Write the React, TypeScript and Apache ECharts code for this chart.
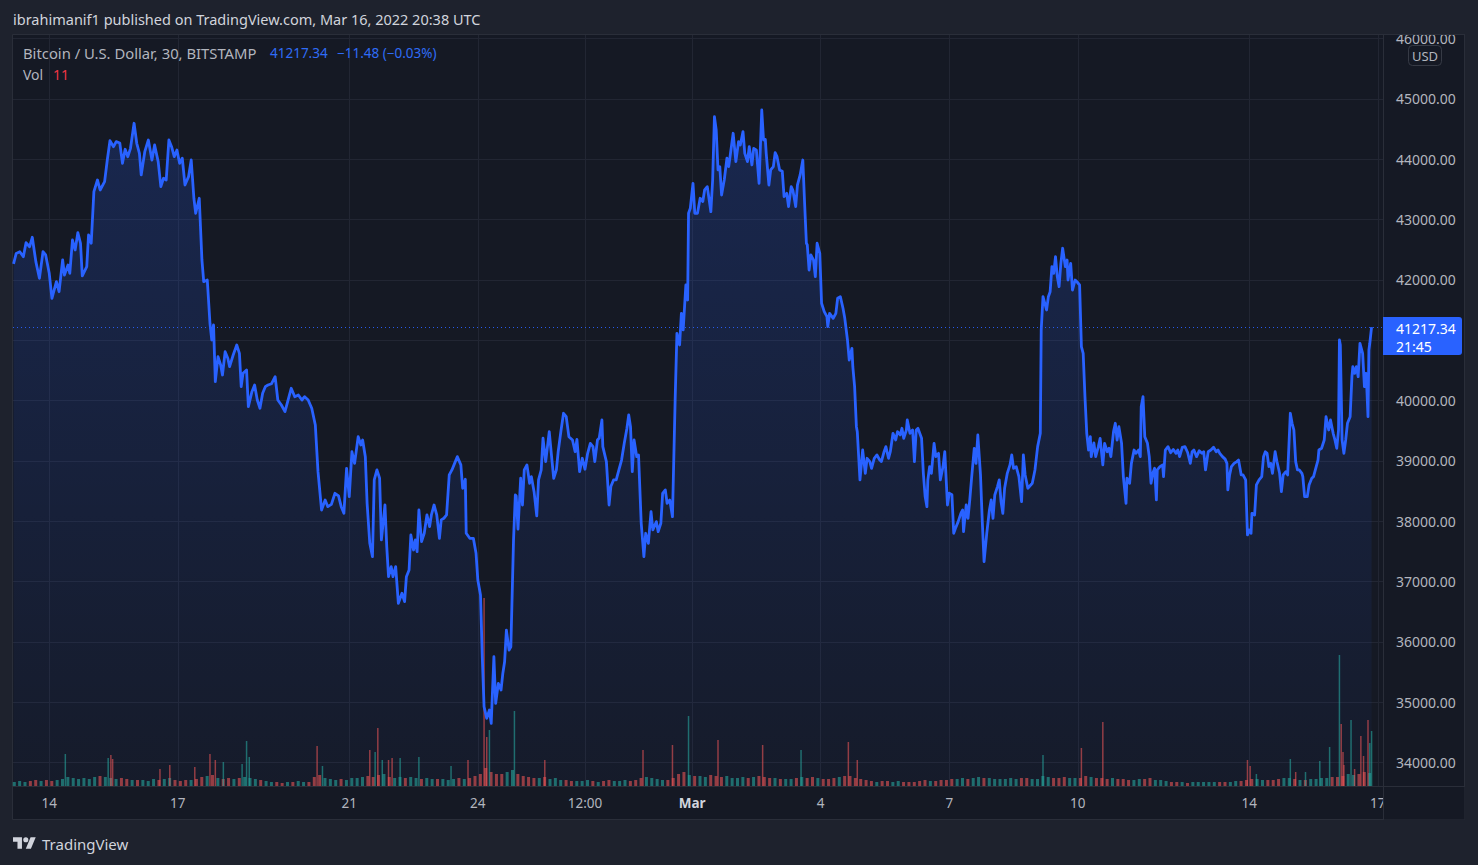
import React, { useEffect, useRef } from 'react';
import * as echarts from 'echarts';

// ---------- DATA ----------
// x values are hour offsets from 2022-02-14 00:00 UTC; 30-minute BITSTAMP BTC/USD closes.
const btcCloses: [number, number][] = [
  [-20, 42265], [-18.5, 42440], [-16.5, 42468], [-14.5, 42386], [-13, 42617], [-11, 42551], [-9.5, 42707], [-7.5, 42303],
  [-5.5, 42027], [-3.5, 42468], [-2, 42414], [0, 42110], [1.5, 41696], [4, 41971], [5.5, 41805], [7.5, 42331], [8.5, 42082],
  [10.5, 42248], [11.5, 42110], [13, 42662], [14.5, 42497], [16, 42783], [17.5, 42608], [18.5, 42066], [21, 42220], [22, 42745],
  [23.5, 42608], [25, 43463], [27, 43657], [28.5, 43491], [31, 43629], [32.5, 43988], [34, 44308], [36, 44209], [37.5, 44292],
  [39.5, 44270], [41, 43934], [42.5, 44166], [44, 44043], [45.5, 44182], [47.5, 44597], [49, 44265], [50.5, 44099], [51.5, 43740],
  [53.5, 44126], [55.5, 44320], [57.5, 43988], [59, 44237], [61, 43961], [62.5, 43546], [64, 43685], [65.5, 43657], [67, 44320],
  [68.5, 44209], [70, 44043], [71.5, 44154], [73, 43934], [74.5, 44017], [76, 43574], [78, 43712], [79.5, 43988], [81, 43354],
  [82, 43105], [84, 43354], [85.5, 42331], [86.5, 41971], [88.5, 41999], [90, 41282], [91, 41005], [92, 41254], [93, 40314],
  [94.5, 40728], [96, 40590], [97, 40425], [98.5, 40811], [100, 40701], [101, 40562], [103, 40756], [105, 40922], [106.5, 40784],
  [107.5, 40231], [108.5, 40453], [110.5, 40508], [111.5, 39899], [113.5, 40148], [115, 40259], [116.5, 40010], [118, 39873],
  [119.5, 40121], [121, 40231], [122.5, 40259], [124.5, 40280], [126.5, 40397], [128, 40010], [130, 39927], [132, 39817],
  [134, 40038], [135.5, 40204], [137.5, 40065], [139.5, 40094], [141.5, 40010], [143, 40065], [145, 40010], [147, 39873],
  [149, 39596], [150.5, 38822], [152.5, 38187], [154.5, 38353], [156, 38242], [158, 38280], [160, 38464], [162, 38420],
  [163.5, 38242], [165, 38132], [166.5, 38878], [168, 38409], [169.5, 39153], [171, 38960],
  [173, 39402], [174.5, 39264], [175.5, 39347], [177, 39071], [178, 38298], [179.5, 37635], [181, 37414], [182, 38685],
  [183.5, 38851], [185, 38713], [186, 37690], [188, 38270], [189, 37580], [190, 37082], [191.5, 37248], [192.5, 37082],
  [194, 37248], [195.5, 36640], [197.5, 36806], [199, 36668], [200, 37082], [201.5, 37193], [202.5, 37773], [204, 37524],
  [205, 37690], [206, 37497], [207, 38187], [208.5, 37663], [210, 37801], [211.5, 38105], [213, 37911], [214, 38105],
  [215.5, 38270], [217, 38105], [218.5, 37718], [219.5, 38022], [221, 38050], [222.5, 38105], [224, 38768], [225.5, 38851],
  [227, 38960], [228.5, 39071], [230.5, 38934], [231.5, 38547], [233, 38696], [233.5, 37801], [235.5, 37718], [237.5, 37718],
  [239, 37469], [240, 37027], [241.5, 36778], [242.5, 35755], [243.5, 34926], [245, 34733], [246.5, 34871], [247.5, 34650],
  [249, 35755], [250, 34981], [251.5, 35312], [253, 35202], [254, 35478], [255, 35671], [256, 36196], [257.5, 35865],
  [258.5, 35920], [260, 37690], [261, 38436], [261.5, 38420], [262.5, 37870], [264, 38713], [265, 38270], [266, 38851],
  [267.5, 38934], [269, 38630], [270, 38740], [271.5, 38491], [273, 38088], [274, 38685], [275.5, 38851], [276.5, 39376],
  [278, 38989], [280, 39486], [281.5, 39015], [282.5, 38713], [284, 38851], [285, 39153], [286.5, 39486], [288, 39790],
  [289.5, 39734], [291, 39402], [293, 39347], [294.5, 39153], [295.5, 39358], [297, 38822], [298.5, 39044], [300, 38862],
  [301.5, 39126], [303, 39292], [304.5, 39236], [305.5, 38989], [307, 39347], [308, 39380], [309.5, 39679], [310, 39237],
  [312, 38989], [313.5, 38270], [314.5, 38575], [316, 38685], [317.5, 38685], [319, 38851], [320.5, 39015], [322, 39292],
  [323.5, 39541], [324.5, 39762], [325.5, 39569], [326.5, 38822], [327.5, 39347], [329, 39071], [330, 39099], [331.5, 37967],
  [333, 37414], [334, 37801], [335.5, 37635], [337, 38160], [338, 37856], [340, 37994], [341, 37828], [342.5, 37967],
  [343.5, 38464], [345, 38519], [346, 38298], [347.5, 38353], [349, 38076],
  [350.5, 40010], [351.5, 41116], [353, 40922], [354, 41447], [355, 41171], [356.5, 41916], [357.5, 41668], [358, 43105],
  [359, 43188], [360.5, 43602], [361.5, 43105], [363, 43105], [364.5, 43354], [366, 43300], [367, 43491], [368.5, 43546],
  [370.5, 43131], [371.5, 43657], [372.5, 44706], [373.5, 44486], [374.5, 43823], [375.5, 43878], [376.5, 43408], [378, 43657],
  [379.5, 44017], [380.5, 43878], [381.5, 44099], [383, 44431], [384.5, 43961], [386, 44292], [387, 44237], [388.5, 44458],
  [389.5, 44099], [391, 43961], [392, 44209], [393.5, 43906], [394.5, 44182], [396, 44150], [396.5, 43961], [397.5, 43602],
  [399, 44817], [400, 44320], [401, 44330], [401.5, 44099], [403, 43574], [404, 43823], [405.5, 43878], [406.5, 44110],
  [407.5, 44050], [409, 43823], [410.5, 43800], [411.5, 43381], [413, 43436], [414, 43215], [415.5, 43546], [416.5, 43480],
  [418, 43215], [419, 43574], [420.5, 43740], [422, 43988], [423, 43271], [424, 42608], [424.5, 42580], [425.5, 42165],
  [426.5, 42414], [428, 42330], [429, 42054], [430, 42608], [431.5, 42442], [432.5, 41613], [434, 41474], [435.5, 41391],
  [436, 41226], [437, 41447], [439, 41364], [440.5, 41447], [441.5, 41696], [443, 41723], [444.5, 41530], [445.5, 41364],
  [447, 41005], [448, 40673], [449.5, 40867], [450, 40562], [451, 40231], [452, 39568], [452.5, 39485], [454, 38685],
  [455.5, 39181], [457, 38795], [458, 39044], [459.5, 38990], [460.5, 38878], [462, 39044], [463.5, 39099], [465, 39020],
  [466, 38989], [467.5, 39153], [468.5, 39237], [470, 39044], [471, 39153], [472.5, 39458], [474, 39347], [475, 39485],
  [476.5, 39430], [477.5, 39541], [478.5, 39375], [480, 39513], [480.5, 39679], [482, 39458], [483.5, 39513], [484.5, 38989],
  [485.5, 39513], [486.5, 39540], [488.5, 39375], [489.5, 38795], [490.5, 38409], [491.5, 38242], [492, 38685], [493, 38906],
  [494, 38795], [495.5, 39292], [496.5, 39071], [498, 39126], [499, 38685], [500.5, 38906], [501.5, 39153], [503, 38270],
  [504, 38465], [505.5, 38440], [506.5, 37801], [507.5, 37884], [509, 37994], [510.5, 38130], [511.5, 38187], [512, 37828],
  [513.5, 38270], [514.5, 38049], [515.5, 38353], [516.5, 38713], [518, 39209], [519, 38960], [520, 39430], [521.5, 38768],
  [522.5, 37994], [523.5, 37331], [525, 37801], [526.5, 38187], [527.5, 38353], [528.5, 38050], [529.5, 38436], [531, 38575],
  [532, 38685], [533, 38326], [534, 38132], [535, 38547], [536.5, 38795], [538, 38934], [539, 39099], [540, 38878],
  [541.5, 38906], [543, 38740], [544.5, 38326], [545.5, 39099], [546.5, 38768], [548, 38547],
  [550.5, 38630], [552, 38851], [553.5, 39237], [555, 39458], [555.5, 41171], [556.5, 41723], [558.5, 41502], [559.5, 41723],
  [560.5, 41805], [561.5, 42220], [562.5, 42110], [563.5, 42386], [564.5, 42055], [565.5, 41888], [566.5, 42275], [567.5, 42525],
  [569, 42220], [570, 42330], [570.5, 41999], [572, 42276], [573, 41833], [574.5, 41999], [575.5, 41970], [577, 41916],
  [578, 40895], [579, 40784], [580, 40065], [581, 39458], [582, 39181], [583, 39402], [583.5, 39071], [585, 39300],
  [586, 39071], [587.5, 39237], [588.5, 39375], [590, 38934], [591, 39292], [592.5, 39153], [593.5, 39210], [594.5, 39071],
  [596, 39486], [597, 39624], [598, 39347], [599, 39569], [600.5, 39292], [601.5, 38740], [603, 38298], [603.5, 38713],
  [605, 38630], [606, 38960], [607.5, 39181], [608.5, 39126], [610, 39181], [611, 39071], [611.5, 39899], [612.5, 40065],
  [613.5, 39402], [615, 39292], [616, 39071], [617, 38630], [618, 38795], [619, 38878], [620, 38353], [620.5, 38851],
  [622, 38906], [623.5, 38934], [624, 38740], [625, 39181], [626.5, 39237], [628, 39136], [629.5, 39190], [631, 39126],
  [632, 39181], [633, 39071], [634.5, 39226], [636, 39237], [637.5, 39140], [639, 38960], [640, 39153], [641, 39181],
  [642.5, 39071], [644, 39170], [645.5, 39126], [646.5, 39153], [647.5, 38851], [649, 39153], [650.5, 39181], [652, 39226],
  [653.5, 39153], [654.5, 39181], [655.5, 39126], [657, 39071], [658.5, 39030], [659.5, 38960], [660, 38519], [661, 38768],
  [662, 38906], [663.5, 38960], [665, 38990], [666, 39015], [667.5, 38768], [668.5, 38768], [670, 38685], [671, 37773],
  [672, 37855], [673, 37800], [673.5, 38132], [675, 38105], [676, 38602], [677.5, 38685], [679, 38740], [680, 39071],
  [681, 39153], [682, 39126], [683, 38906], [684, 38960], [685, 38795], [686.5, 39153], [687.5, 38990], [689, 38795],
  [690, 38491], [691, 38768], [692.5, 38822], [693.5, 38768], [695, 39790], [696, 39624], [697, 39513], [698, 38989],
  [699, 38851], [700, 38851], [701.5, 38795], [702, 38740], [703, 38409], [704.5, 38409], [705.5, 38602], [707, 38713],
  [708, 38740], [709.5, 38906], [710.5, 39015], [711, 39181], [712.5, 39210], [714, 39347], [715, 39734], [716.5, 39513],
  [717.5, 39679], [719, 39458], [720, 39347], [721, 39209], [722, 39513], [722.5, 41005], [723, 40923], [724, 39347],
  [725, 39126], [726, 39347], [727, 39624], [728.5, 39734], [729.5, 40397], [730, 40562], [731, 40453], [732, 40562],
  [733, 40397], [734, 40950], [735.5, 40784], [736.5, 40231], [737.5, 40453], [738.5, 39734], [739, 40839], [739.5, 40950],
  [740.5, 41217.34],
];

// Volume (BTC) in 3-hour buckets starting at hour -20, one row per ~day
const volBucketStart = -20;
const volBucketStep = 3;
const volume3h: number[] = [
  40, 50, 40, 50, 60, 50, 60, 50,
  60, 70, 90, 80, 70, 80, 70, 90,
  100, 90, 80, 70, 80, 70, 60, 60,
  60, 50, 70, 60, 70, 80, 60, 50,
  60, 60, 70, 90, 100, 110, 80, 70,
  80, 70, 80, 90, 80, 70, 60, 50,
  40, 40, 30, 40, 40, 50, 40, 40,
  90, 110, 80, 70, 60, 70, 60, 80,
  80, 90, 100, 90, 110, 120, 90, 80,
  90, 80, 90, 80, 70, 80, 70, 70,
  70, 60, 70, 80, 70, 80, 100, 120,
  180, 140, 120, 120, 140, 160, 120, 100,
  90, 80, 80, 90, 70, 80, 60, 60,
  50, 50, 50, 60, 50, 40, 50, 60,
  50, 50, 60, 50, 60, 80, 90, 80,
  70, 60, 60, 80, 120, 140, 110, 100,
  100, 90, 110, 100, 90, 100, 80, 80,
  90, 80, 90, 100, 90, 80, 80, 70,
  70, 70, 80, 90, 80, 90, 80, 70,
  70, 80, 90, 100, 100, 80, 70, 60,
  50, 40, 50, 50, 40, 50, 40, 40,
  40, 50, 60, 50, 50, 60, 60, 70,
  70, 80, 70, 80, 90, 80, 80, 70,
  70, 70, 80, 70, 80, 80, 70, 70,
  100, 90, 80, 80, 90, 80, 80, 80,
  100, 90, 80, 80, 70, 80, 70, 70,
  60, 60, 70, 70, 80, 60, 60, 50,
  40, 40, 40, 30, 40, 40, 40, 40,
  40, 40, 40, 40, 50, 50, 60, 70,
  70, 60, 60, 60, 70, 80, 80, 70,
  60, 60, 70, 70, 80, 80, 90, 90,
  100, 120, 110, 120, 140, 130,
];

// Individual tall 30-minute volume bars: [hour offset, BTC]
const volumeSpikes: [number, number][] = [
  [9, 320], [33, 280], [34.5, 310], [35.5, 270], [62, 170], [67.5, 210], [81.5, 190], [90, 320], [93, 260], [97.5, 240],
  [108, 220], [110.5, 450], [112, 290], [150, 400], [153, 200], [179.5, 360], [182.5, 340], [184, 580], [186.5, 260],
  [190, 260], [192, 280], [196.5, 280], [207, 290], [225, 200], [234.5, 260], [243.5, 1880], [245, 490], [246.5, 560],
  [260.5, 750], [277.5, 260], [332.5, 360], [349, 410], [358, 700], [374.5, 460], [399.5, 410], [421, 360], [447.5, 440],
  [452.5, 260], [556.5, 310], [578, 380], [590, 640], [671, 260], [672.5, 200], [676, 120], [695, 270], [698, 140],
  [703.5, 140], [711.5, 250], [717, 390], [722.5, 1310], [723.5, 620], [724.5, 340], [725, 210], [729, 660], [731, 170],
  [734.5, 500], [736, 300], [738.5, 660], [739.5, 430], [740.5, 550],
];

// Time-axis ticks (hour offsets) and their labels
const xTickHours = [0, 72, 168, 240, 300, 360, 432, 504, 576, 672, 744];
const xTickLabels = ['14', '17', '21', '24', '12:00', 'Mar', '4', '7', '10', '14', '17'];
const yTicks = [34000, 35000, 36000, 37000, 38000, 39000, 40000, 41000, 42000, 43000, 44000, 45000, 46000];
// 41000.00 sits under the last-price tag in the reference, so it has no visible label
const yLabelTicks = [34000, 35000, 36000, 37000, 38000, 39000, 40000, 42000, 43000, 44000, 45000, 46000];
const lastPrice = 41217.34;

// ---------- STYLE ----------
const FONT = '"Noto Sans", "DejaVu Sans", sans-serif';
const OUTER_BG = '#1e222d';
const PANE_BG = '#151924';
const BORDER = '#2a2e39';
const GRID = '#222633';
const TEXT = '#b2b5be';
const BLUE = '#2962ff';
const UP = 'rgba(38,166,154,0.6)';
const DOWN = 'rgba(239,83,80,0.6)';

const TV_LOGO = 'M14 22H7V11H0V4h14v18zM28 22h-8l7.5-18h8L28 22zM16 8a4 4 0 1 0 8 0a4 4 0 1 0 -8 0z';

function isUpAt(h: number): boolean {
  let i = btcCloses.findIndex((p) => p[0] >= h);
  if (i < 0) i = btcCloses.length - 1;
  if (i === 0) return true;
  return btcCloses[i][1] >= btcCloses[i - 1][1];
}

export default function App() {
  const ref = useRef<HTMLDivElement>(null);
  useEffect(() => {
    if (!ref.current) return;
    try {
      echarts.graphic.registerShape('tvlogo', echarts.graphic.extendPath(TV_LOGO, {}) as any);
    } catch (e) {}
    const chart = echarts.init(ref.current, null, { renderer: 'svg' });

    const baseVol = volume3h.map((v, i) => {
      const h = volBucketStart + i * volBucketStep;
      return { value: [h, v], itemStyle: { color: isUpAt(h) ? UP : DOWN } };
    });
    const spikeVol = volumeSpikes.map(([h, v]) => ({
      value: [h, v],
      itemStyle: { color: isUpAt(h) ? UP : DOWN },
    }));

    const option: any = {
      animation: false,
      backgroundColor: OUTER_BG,
      textStyle: { fontFamily: FONT },
      grid: { left: 13, right: 95, top: 35, bottom: 79, containLabel: false },
      xAxis: {
        type: 'value',
        min: -20.3,
        max: 746.9,
        axisLine: { show: false },
        axisTick: { show: false, customValues: xTickHours },
        axisLabel: {
          customValues: xTickHours,
          color: TEXT,
          fontSize: 13.5,
          fontFamily: FONT,
          margin: 10,
          showMinLabel: true,
          showMaxLabel: true,
          formatter: (v: number) => {
            const idx = xTickHours.indexOf(Math.round(v));
            const t = idx >= 0 ? xTickLabels[idx] : '';
            return t === 'Mar' ? '{b|Mar}' : t;
          },
          rich: { b: { fontWeight: 'bold', color: '#d1d4dc', fontSize: 13.5, fontFamily: FONT } },
        },
        splitLine: { show: true, lineStyle: { color: GRID, width: 1 } },
      },
      yAxis: [
        {
          type: 'value',
          position: 'right',
          min: 33612,
          max: 46060,
          axisLine: { show: false },
          axisTick: { show: false, customValues: yTicks },
          axisLabel: {
            customValues: yLabelTicks,
            color: TEXT,
            fontSize: 14,
            fontFamily: FONT,
            margin: 13,
            formatter: (v: number) => v.toFixed(2),
          },
          splitLine: { show: true, lineStyle: { color: GRID, width: 1 } },
        },
        { type: 'value', min: 0, max: 7510, show: false, splitLine: { show: false } },
      ],
      series: [
        {
          name: 'Vol',
          type: 'bar',
          yAxisIndex: 1,
          data: baseVol,
          barWidth: 3,
          barGap: '-100%',
          z: 1,
          silent: true,
        },
        {
          name: 'Vol spikes',
          type: 'bar',
          yAxisIndex: 1,
          data: spikeVol,
          barWidth: 1.5,
          barGap: '-100%',
          z: 1,
          silent: true,
        },
        {
          name: 'BTCUSD',
          type: 'line',
          data: btcCloses,
          symbol: 'none',
          showSymbol: false,
          z: 3,
          lineStyle: { color: BLUE, width: 2.8, join: 'round' },
          areaStyle: {
            origin: 'start',
            color: new echarts.graphic.LinearGradient(0, 0, 0, 1, [
              { offset: 0, color: 'rgba(41,98,255,0.28)' },
              { offset: 1, color: 'rgba(41,98,255,0.04)' },
            ]),
          },
          markLine: {
            silent: true,
            symbol: ['none', 'none'],
            label: { show: false },
            lineStyle: { color: BLUE, width: 1, type: [1, 3], opacity: 0.9 },
            data: [{ yAxis: lastPrice }],
          },
        },
      ],
      graphic: [
        {
          type: 'rect', z: -100, silent: true,
          shape: { x: 12.5, y: 34.5, width: 1452, height: 785 },
          style: { fill: PANE_BG, stroke: BORDER, lineWidth: 1 },
        },
        { type: 'line', z: 40, silent: true, shape: { x1: 1383.5, y1: 34, x2: 1383.5, y2: 820 }, style: { stroke: BORDER, lineWidth: 1 } },
        { type: 'line', z: 40, silent: true, shape: { x1: 12, y1: 786.5, x2: 1465, y2: 786.5 }, style: { stroke: BORDER, lineWidth: 1 } },
        { type: 'rect', z: 50, silent: true, shape: { x: 1384, y: 787, width: 80.5, height: 32.5 }, style: { fill: PANE_BG } },
        { type: 'rect', z: 50, silent: true, shape: { x: 1384, y: 18, width: 81, height: 16 }, style: { fill: OUTER_BG } },
        { type: 'line', z: 51, silent: true, shape: { x1: 1383, y1: 34.5, x2: 1465, y2: 34.5 }, style: { stroke: BORDER, lineWidth: 1 } },
        {
          type: 'rect', z: 60, silent: true,
          shape: { x: 1408.5, y: 45.5, width: 33, height: 20, r: 4 },
          style: { fill: PANE_BG, stroke: '#363a45', lineWidth: 1 },
        },
        {
          type: 'text', z: 61, silent: true, x: 1425, y: 56,
          style: { text: 'USD', fill: TEXT, fontSize: 13, fontFamily: FONT, align: 'center', verticalAlign: 'middle' },
        },
        {
          type: 'rect', z: 60, silent: true,
          shape: { x: 1383, y: 317, width: 79, height: 38, r: [0, 3, 3, 0] },
          style: { fill: BLUE },
        },
        {
          type: 'text', z: 61, silent: true, x: 1396, y: 328,
          style: { text: '41217.34', fill: '#ffffff', fontSize: 14, fontFamily: FONT, verticalAlign: 'middle' },
        },
        {
          type: 'text', z: 61, silent: true, x: 1396, y: 346,
          style: { text: '21:45', fill: '#ffffff', fontSize: 14, fontFamily: FONT, verticalAlign: 'middle' },
        },
        {
          type: 'text', z: 61, silent: true, x: 13, y: 19,
          style: {
            text: 'ibrahimanif1 published on TradingView.com, Mar 16, 2022 20:38 UTC',
            fill: '#d1d4dc', fontSize: 14.5, fontFamily: FONT, verticalAlign: 'middle',
          },
        },
        {
          type: 'text', z: 61, silent: true, x: 23, y: 53,
          style: { text: 'Bitcoin / U.S. Dollar, 30, BITSTAMP', fill: TEXT, fontSize: 14.8, fontFamily: FONT, verticalAlign: 'middle' },
        },
        {
          type: 'text', z: 61, silent: true, x: 270, y: 53,
          style: { text: '41217.34', fill: '#2f6cf6', fontSize: 13.5, fontFamily: FONT, verticalAlign: 'middle' },
        },
        {
          type: 'text', z: 61, silent: true, x: 337, y: 53,
          style: { text: '\u221211.48 (\u22120.03%)', fill: '#2f6cf6', fontSize: 13.5, fontFamily: FONT, verticalAlign: 'middle' },
        },
        {
          type: 'text', z: 61, silent: true, x: 23, y: 74,
          style: { text: 'Vol', fill: TEXT, fontSize: 14, fontFamily: FONT, verticalAlign: 'middle' },
        },
        {
          type: 'text', z: 61, silent: true, x: 53, y: 74,
          style: { text: '11', fill: '#f23645', fontSize: 14, fontFamily: FONT, verticalAlign: 'middle' },
        },
        {
          type: 'tvlogo', z: 61, silent: true, x: 13, y: 834.6, scaleX: 0.64, scaleY: 0.64,
          style: { fill: '#d1d4dc' },
        },
        {
          type: 'text', z: 61, silent: true, x: 42, y: 844,
          style: { text: 'TradingView', fill: '#d1d4dc', fontSize: 15, fontFamily: FONT, verticalAlign: 'middle' },
        },
      ],
    };

    chart.setOption(option);
    return () => chart.dispose();
  }, []);

  return (
    <div
      ref={ref}
      style={{ position: 'fixed', left: 0, top: 0, width: 1478, height: 865, background: OUTER_BG }}
    />
  );
}
